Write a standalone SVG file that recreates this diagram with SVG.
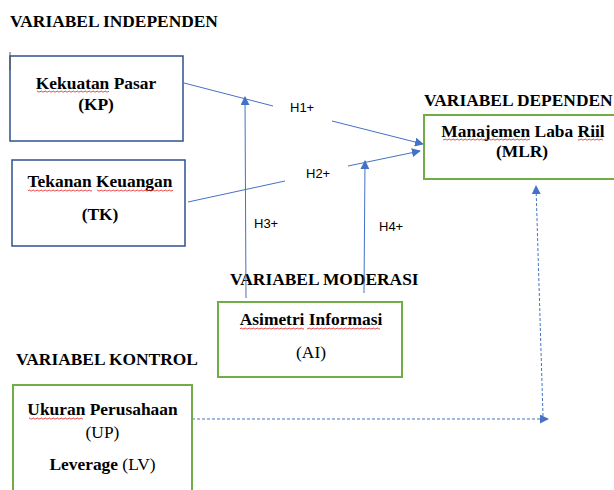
<svg xmlns="http://www.w3.org/2000/svg" width="614" height="490" viewBox="0 0 614 490">
<style>
.box-b{fill:#fff;stroke:#2F528F;stroke-width:1.5}
.box-g{fill:#fff;stroke:#70AD47;stroke-width:2}
.t{font-family:"Liberation Serif","Times New Roman",serif;font-size:17.4px;fill:#000}
.b{font-weight:bold}
.h{font-family:"Liberation Sans",Arial,sans-serif;font-size:13px;fill:#000}
.ln{stroke:#4472C4;stroke-width:1;fill:none}
.dl{stroke:#4472C4;stroke-width:1;fill:none;stroke-dasharray:3 2}
.sq{fill:url(#squig)}
</style>
<defs>
<marker id="ah" viewBox="0 0 10 10" refX="9" refY="5" markerWidth="9" markerHeight="9" markerUnits="userSpaceOnUse" orient="auto">
<path d="M0 0 L10 5 L0 10 Z" fill="#4472C4"/>
</marker>
<pattern id="squig" patternUnits="userSpaceOnUse" width="4" height="3">
<path d="M0 2 Q1 0 2 1.5 T4 1.5" fill="none" stroke="#E02020" stroke-width="0.8"/>
</pattern>
</defs>

<text class="t b" x="10" y="27">VARIABEL INDEPENDEN</text>
<text class="t b" x="424" y="106">VARIABEL DEPENDEN</text>
<text class="t b" x="230" y="285">VARIABEL MODERASI</text>
<text class="t b" x="16" y="365">VARIABEL KONTROL</text>

<g id="connectors">
<polyline class="ln" points="184,83 273,106"/>
<line class="ln" x1="332" y1="121" x2="423" y2="144" marker-end="url(#ah)"/>
<polyline class="ln" points="188,202 285,181"/>
<line class="ln" x1="348" y1="166" x2="420" y2="151" marker-end="url(#ah)"/>
<line class="ln" x1="246" y1="298" x2="245" y2="97" marker-end="url(#ah)"/>
<line class="ln" x1="364" y1="293" x2="365" y2="161" marker-end="url(#ah)"/>
<line class="dl" x1="192" y1="419" x2="548" y2="419" marker-end="url(#ah)"/>
<line class="dl" x1="543" y1="416" x2="536" y2="186" marker-end="url(#ah)"/>
<text class="h" x="290" y="112">H1+</text>
<text class="h" x="306" y="178">H2+</text>
<text class="h" x="254" y="228">H3+</text>
<text class="h" x="379" y="231">H4+</text>
</g>

<g id="KP">
<rect class="box-b" x="10" y="56" width="173" height="85"/>
<line x1="10" y1="52" x2="10" y2="70" stroke="#555" stroke-width="1"/>
<text class="t b" x="96" y="89" text-anchor="middle">Kekuatan Pasar</text>
<text class="t b" x="96" y="110" text-anchor="middle">(KP)</text>
<rect class="sq" x="37" y="90" width="72" height="3"/>
</g>

<g id="TK">
<rect class="box-b" x="12" y="160" width="173" height="86"/>
<text class="t b" x="100" y="187" text-anchor="middle">Tekanan Keuangan</text>
<text class="t b" x="100" y="220" text-anchor="middle">(TK)</text>
<rect class="sq" x="28" y="189" width="64" height="3"/>
<rect class="sq" x="97" y="189" width="76" height="3"/>
</g>

<g id="MLR">
<rect class="box-g" x="424" y="115" width="200" height="64"/>
<text class="t b" x="523" y="137" text-anchor="middle">Manajemen Laba Riil</text>
<text class="t b" x="522" y="157" text-anchor="middle">(MLR)</text>
<rect class="sq" x="443" y="138" width="87" height="3"/>
<rect class="sq" x="578" y="138" width="25" height="3"/>
</g>

<g id="AI">
<rect class="box-g" x="218" y="302" width="184" height="75"/>
<text class="t b" x="311" y="325" text-anchor="middle">Asimetri Informasi</text>
<text class="t" x="311" y="358" text-anchor="middle">(AI)</text>
<rect class="sq" x="240" y="327" width="64" height="3"/>
<rect class="sq" x="307" y="327" width="73" height="3"/>
</g>

<g id="UP">
<rect class="box-g" x="13" y="385" width="179" height="115"/>
<text class="t b" x="102.5" y="415" text-anchor="middle">Ukuran Perusahaan</text>
<text class="t" x="102.5" y="438" text-anchor="middle">(UP)</text>
<text class="t" x="102.5" y="470" text-anchor="middle"><tspan class="b">Leverage</tspan> (LV)</text>
<rect class="sq" x="29" y="417" width="54" height="3"/>
</g>
</svg>
